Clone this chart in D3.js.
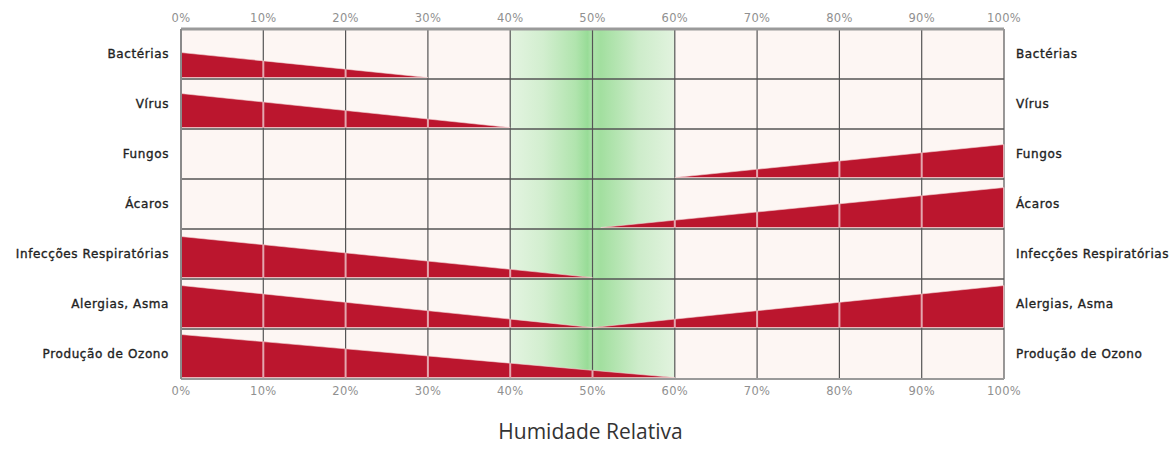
<!DOCTYPE html>
<html>
<head>
<meta charset="utf-8">
<script src="https://cdn.jsdelivr.net/npm/d3@7"></script>
<style>
	body { margin: 0; background: #fff; overflow: hidden; }
	#chart { width: 1176px; height: 459px; }
</style>
</head>
<body>
<div id="chart"></div>
<script>
// Rows (top to bottom)
const categories = [
	"Bactérias",
	"Vírus",
	"Fungos",
	"Ácaros",
	"Infecções Respiratórias",
	"Alergias, Asma",
	"Produção de Ozono",
]

// Each row's wedge outline: [humidity %, severity as share of the row]
const bacterias = [[0, 0.5], [30, 0]]
const virus = [[0, 0.68], [40, 0]]
const fungos = [[60, 0], [100, 0.66]]
const acaros = [[51, 0], [100, 0.8]]
const infeccoes = [[0, 0.82], [50, 0]]
const alergias = [[0, 0.84], [50, 0], [100, 0.84]]
const ozono = [[0, 0.86], [60, 0]]

const seriesByRow = [bacterias, virus, fungos, acaros, infeccoes, alergias, ozono]

const tickValues = [0, 10, 20, 30, 40, 50, 60, 70, 80, 90, 100]
const optimalRange = [40, 60]
const axisTitle = "Humidade Relativa"

function renderChart() {
	const width = 1176
	const height = 459
	const margin = { top: 29, right: 172, bottom: 80, left: 181 }

	const svg = d3
		.select("#chart")
		.append("svg")
		.attr("width", width)
		.attr("height", height)

	const x = d3
		.scaleLinear()
		.domain([0, 100])
		.range([margin.left, width - margin.right])

	const y = d3
		.scaleBand()
		.domain(categories)
		.range([margin.top, height - margin.bottom])

	const rowH = y.bandwidth()
	const sev = d3.scaleLinear().domain([0, 1]).range([0, rowH])

	// Gradient for the optimal band
	const defs = svg.append("defs")
	const grad = defs
		.append("linearGradient")
		.attr("id", "green-band")
		.attr("x1", "0%")
		.attr("x2", "100%")
	;[
		[0, "#e4f4e1"],
		[0.2, "#d2eecf"],
		[0.4, "#b0e4ad"],
		[0.47, "#98dc97"],
		[0.5, "#aee3ab"],
		[0.55, "#a2df9f"],
		[0.78, "#cdecca"],
		[1, "#e2f3df"],
	].forEach(([o, c]) => grad.append("stop").attr("offset", o).attr("stop-color", c))

	// Background
	svg.append("rect")
		.attr("x", x(0))
		.attr("y", margin.top)
		.attr("width", x(100) - x(0))
		.attr("height", rowH * categories.length)
		.attr("fill", "#fdf6f3")

	svg.append("rect")
		.attr("x", x(optimalRange[0]))
		.attr("y", margin.top)
		.attr("width", x(optimalRange[1]) - x(optimalRange[0]))
		.attr("height", rowH * categories.length)
		.attr("fill", "url(#green-band)")

	// Gridlines
	const grid = svg.append("g").attr("class", "grid")
	grid.selectAll("line.v")
		.data(tickValues)
		.join("line")
		.attr("class", "v")
		.attr("x1", (d) => x(d))
		.attr("x2", (d) => x(d))
		.attr("y1", margin.top)
		.attr("y2", height - margin.bottom)
		.attr("stroke", "#555")
		.attr("stroke-width", 1.2)

	grid.selectAll("line.h")
		.data(categories.slice(1))
		.join("line")
		.attr("class", "h")
		.attr("x1", x(0))
		.attr("x2", x(100))
		.attr("y1", (d) => y(d))
		.attr("y2", (d) => y(d))
		.attr("stroke", "#555")
		.attr("stroke-width", 1.5)

	// Wedges
	const gap = 1.5
	const area = (row) =>
		d3
			.area()
			.x((d) => x(d[0]))
			.y0(y(row) + rowH - gap)
			.y1((d) => y(row) + rowH - gap - sev(d[1]))

	const wedges = svg.append("g").attr("class", "wedges")
	categories.forEach((cat, i) => {
		defs.append("clipPath")
			.attr("id", `clip-${i}`)
			.append("path")
			.attr("d", area(cat)(seriesByRow[i]))

		wedges.append("path")
			.attr("d", area(cat)(seriesByRow[i]))
			.attr("fill", "#bb162e")
			.attr("stroke", "#f4d6d6")
			.attr("stroke-width", 0.6)

		// grid shows lighter through the red
		wedges.append("g")
			.attr("clip-path", `url(#clip-${i})`)
			.selectAll("line")
			.data(tickValues)
			.join("line")
			.attr("x1", (d) => x(d))
			.attr("x2", (d) => x(d))
			.attr("y1", y(cat))
			.attr("y2", y(cat) + rowH)
			.attr("stroke", "#e4a6ae")
			.attr("stroke-width", 2)
	})

	// Outer frame
	svg.append("line")
		.attr("x1", x(0))
		.attr("x2", x(100))
		.attr("y1", margin.top)
		.attr("y2", margin.top)
		.attr("stroke", "#9a9a9a")
		.attr("stroke-width", 3)
	svg.append("line")
		.attr("x1", x(0))
		.attr("x2", x(100))
		.attr("y1", height - margin.bottom)
		.attr("y2", height - margin.bottom)
		.attr("stroke", "#9a9a9a")
		.attr("stroke-width", 2)
	svg.append("line")
		.attr("x1", x(0))
		.attr("x2", x(0))
		.attr("y1", margin.top)
		.attr("y2", height - margin.bottom)
		.attr("stroke", "#8a8a8a")
		.attr("stroke-width", 2)

	// Tick labels top and bottom
	const fmt = (d) => `${d}%`
	;[margin.top - 7, height - margin.bottom + 16].forEach((yy) => {
		svg.append("g")
			.selectAll("text")
			.data(tickValues)
			.join("text")
			.attr("x", (d) => x(d))
			.attr("y", yy)
			.attr("text-anchor", "middle")
			.style("font-family", "DejaVu Sans")
			.style("font-size", "11.5px")
			.style("letter-spacing", "0.3px")
			.style("fill", "#909090")
			.text(fmt)
	})

	// Row labels left and right
	const labelStyle = (sel) =>
		sel
			.style("font-family", "DejaVu Sans")
			.style("font-size", "12px")
			.style("letter-spacing", "0.6px")
			.style("fill", "#222")
			.style("stroke", "#222")
			.style("stroke-width", "0.35px")

	svg.append("g")
		.selectAll("text")
		.data(categories)
		.join("text")
		.attr("x", x(0) - 12)
		.attr("y", (d) => y(d) + rowH / 2 + 4)
		.attr("text-anchor", "end")
		.call(labelStyle)
		.text((d) => d)

	svg.append("g")
		.selectAll("text")
		.data(categories)
		.join("text")
		.attr("x", x(100) + 12)
		.attr("y", (d) => y(d) + rowH / 2 + 4)
		.attr("text-anchor", "start")
		.call(labelStyle)
		.text((d) => d)

	// Axis title
	svg.append("text")
		.attr("x", x(50) - 2)
		.attr("y", 439)
		.attr("text-anchor", "middle")
		.style("font-family", "Open Sans")
		.style("font-size", "21px")
		.style("fill", "#333")
		.text(axisTitle)
}

renderChart()
</script>
</body>
</html>
